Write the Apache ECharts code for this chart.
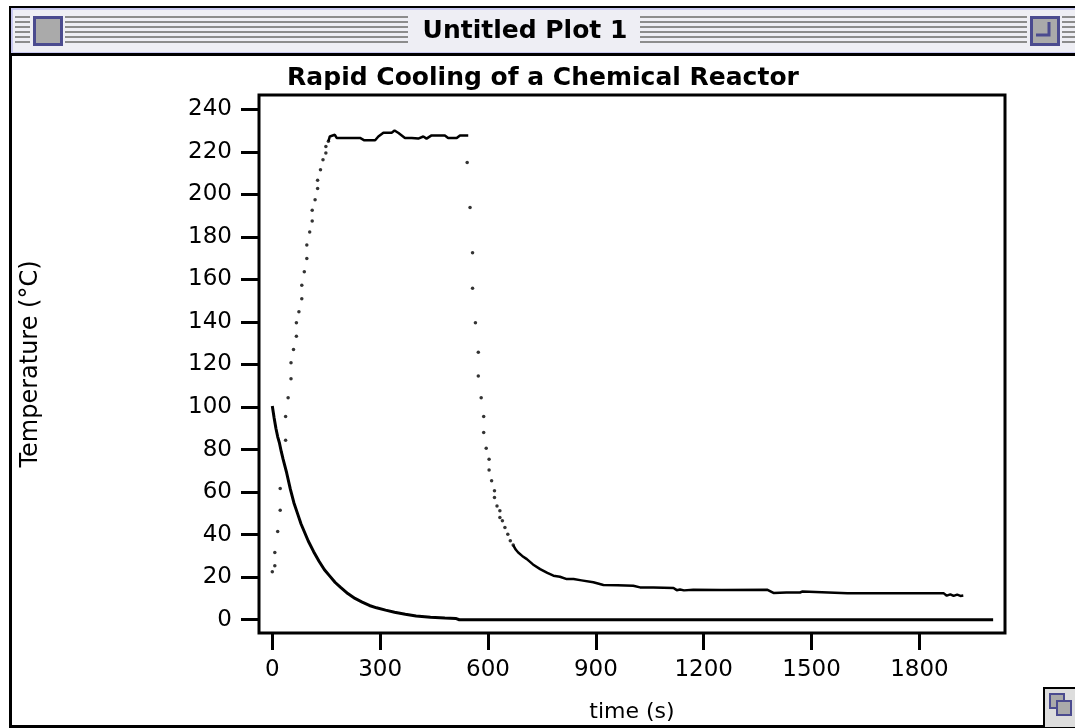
<!DOCTYPE html>
<html>
<head>
<meta charset="utf-8">
<title>Rapid Cooling of a Chemical Reactor</title>
<script src="https://cdn.jsdelivr.net/npm/echarts@6.0.0/dist/echarts.min.js"></script>
<style>
  html, body { margin: 0; padding: 0; background: #fff; }
  #main { width: 1075px; height: 728px; }
</style>
</head>
<body>
<div id="main"></div>
<script>
// tick positions
var xTicks = [0, 300, 600, 900, 1200, 1500, 1800];
var yTicks = [0, 20, 40, 60, 80, 100, 120, 140, 160, 180, 200, 220, 240];

// lower curve: [time s, temp C]
var coolCurve = [
  [0, 100.5], [5, 95], [10, 90], [15, 86], [20, 83], [25, 79], [30, 75.5], [40, 69],
  [50, 61.5], [60, 55], [70, 50], [80, 45], [90, 41], [100, 37], [115, 32], [130, 27.5],
  [145, 23.5], [160, 20.5], [175, 17.5], [190, 15.2], [210, 12.3], [230, 10], [250, 8.3],
  [270, 6.7], [290, 5.6], [315, 4.5], [340, 3.5], [370, 2.6], [400, 1.8], [440, 1.2],
  [480, 0.8], [510, 0.6], [520, 0], [2005, 0]
];

// reactor readings while heating (separate dots)
var heatDots = [
  [0, 22.5], [7, 25.4], [7, 31.6], [15, 41.5], [22, 51.5], [22, 61.7], [37, 84.4],
  [37, 95.5], [44, 104.4], [52, 113.3], [52, 120.8], [59, 127], [67, 133.3], [67, 139.6],
  [74, 144.8], [82, 150.9], [82, 157.3], [89, 163.6], [96, 169.8], [96, 176.2], [104, 182.3],
  [111, 187.5], [111, 192.5], [119, 197.5], [126, 202.7], [126, 206.6], [134, 211.5],
  [141, 216.3], [149, 219.4], [149, 222.5], [156, 224.9]
];

// plateau readings (dense, looks like a line)
var plateau = [
  [156, 224.9], [160, 227.2], [174, 228], [179, 226.5], [244, 226.5], [248, 227.2],
  [256, 225.4], [286, 225.4], [295, 227.2], [309, 229], [332, 229], [340, 230],
  [351, 228.8], [369, 226.5], [388, 226.5], [406, 226.2], [420, 227.2], [429, 226.2],
  [443, 227.7], [480, 227.7], [489, 226.5], [513, 226.5], [522, 227.7], [545, 227.7]
];

// readings during quench (separate dots)
var quenchDots = [
  [542, 215], [550, 193.8], [557, 172.5], [557, 155.9], [565, 139.6], [573, 125.8],
  [573, 114.6], [581, 104.4], [588, 95.5], [588, 88], [595, 80.6], [603, 75.4],
  [603, 70.4], [610, 65.3], [618, 60.6], [618, 57.5], [625, 53.5], [633, 51.2],
  [633, 48.1], [640, 46.5], [647, 43.4], [655, 40.2], [662, 37.1], [670, 35.1]
];

// slow tail after quench
var tail = [
  [670, 35.1], [677, 33], [684, 31.6], [695, 30], [708, 28.5], [725, 26], [745, 23.8],
  [765, 22], [782, 20.7], [800, 20.2], [819, 19.1], [838, 19.1], [860, 18.5], [893, 17.6],
  [921, 16.3], [960, 16.2], [1004, 16], [1023, 15.2], [1060, 15.1], [1116, 14.9],
  [1125, 13.9], [1134, 14.2], [1145, 13.8], [1171, 14.1], [1250, 14], [1376, 14.1],
  [1394, 12.6], [1430, 12.8], [1468, 12.8], [1475, 13.3], [1480, 12.6], [1600, 12.5],
  [1700, 12.5], [1867, 12.5], [1876, 11.3], [1886, 11.9], [1895, 11.2], [1905, 11.8],
  [1914, 11.2], [1922, 11.4]
];

var FONT = '"DejaVu Sans", Verdana, sans-serif';
var FRAME = '#4b4b8f';

// title bar stripes of the mac window
function stripes() {
  var segs = [[15, 30], [65, 408], [640, 1027], [1062, 1075]];
  var out = [];
  for (var s = 0; s < segs.length; s++) {
    for (var i = 0; i < 6; i++) {
      out.push({
        type: 'rect', silent: true,
        shape: { x: segs[s][0], y: 16 + i * 5, width: segs[s][1] - segs[s][0], height: 2 },
        style: { fill: '#8c8c8c' }
      });
    }
  }
  return out;
}

var chart = echarts.init(document.getElementById('main'), null, { renderer: 'canvas' });

var option = {
  backgroundColor: '#fff',
  animation: false,
  title: {
    text: 'Rapid Cooling of a Chemical Reactor',
    left: 538,
    textAlign: 'center',
    top: 61,
    textStyle: { fontFamily: FONT, fontSize: 25, fontWeight: 'bold', color: '#000' }
  },
  grid: {
    left: 259, top: 95, right: 70, bottom: 94,
    show: true,
    borderColor: '#000',
    borderWidth: 3,
    backgroundColor: 'transparent'
  },
  xAxis: {
    type: 'value',
    min: -37,
    max: 2038,
    axisLine: { show: false, onZero: false },
    splitLine: { show: false },
    axisTick: {
      show: true, length: 17, customValues: xTicks,
      lineStyle: { color: '#000', width: 3 }
    },
    axisLabel: {
      customValues: xTicks, margin: 26,
      color: '#000', fontFamily: FONT, fontSize: 23,
      formatter: function (v) { return String(v); }
    },
    name: 'time (s)',
    nameLocation: 'middle',
    nameGap: 68,
    nameTextStyle: { color: '#000', fontFamily: FONT, fontSize: 22 }
  },
  yAxis: {
    type: 'value',
    min: -6.24,
    max: 246.7,
    axisLine: { show: false, onZero: false },
    splitLine: { show: false },
    axisTick: {
      show: true, length: 18, customValues: yTicks,
      lineStyle: { color: '#000', width: 3 }
    },
    axisLabel: {
      customValues: yTicks, margin: 27,
      color: '#000', fontFamily: FONT, fontSize: 23
    },
    name: 'Temperature (°C)',
    nameLocation: 'middle',
    nameRotate: 90,
    nameGap: 216,
    nameTextStyle: { color: '#000', fontFamily: FONT, fontSize: 24 }
  },
  series: [
    {
      name: 'cooling curve', type: 'line', data: coolCurve,
      showSymbol: false, smooth: false,
      lineStyle: { color: '#000', width: 3 }
    },
    {
      name: 'heating', type: 'scatter', data: heatDots,
      symbol: 'circle', symbolSize: 3.5, itemStyle: { color: '#000' }
    },
    {
      name: 'plateau', type: 'line', data: plateau,
      showSymbol: false, lineStyle: { color: '#000', width: 2.5 }
    },
    {
      name: 'quench', type: 'scatter', data: quenchDots,
      symbol: 'circle', symbolSize: 3.5, itemStyle: { color: '#000' }
    },
    {
      name: 'tail', type: 'line', data: tail,
      showSymbol: false, lineStyle: { color: '#000', width: 2.5 }
    }
  ],
  graphic: [
    // window frame
    { type: 'rect', silent: true, shape: { x: 10.5, y: 7.5, width: 1100, height: 719 },
      style: { fill: 'none', stroke: '#000', lineWidth: 3 } },
    // title bar
    { type: 'rect', silent: true, shape: { x: 12, y: 9, width: 1070, height: 44 },
      style: { fill: '#eeeef4', stroke: '#c8c8f0', lineWidth: 2 } },
    { type: 'line', silent: true, shape: { x1: 10, y1: 54.5, x2: 1075, y2: 54.5 },
      style: { stroke: '#000', lineWidth: 3 } }
  ].concat(stripes()).concat([
    // close box
    { type: 'rect', silent: true, shape: { x: 34.5, y: 17.5, width: 27, height: 27 },
      style: { fill: '#aaaaaa', stroke: FRAME, lineWidth: 3 } },
    // zoom box
    { type: 'rect', silent: true, shape: { x: 1031.5, y: 17.5, width: 27, height: 27 },
      style: { fill: '#aaaaaa', stroke: FRAME, lineWidth: 3 } },
    { type: 'polyline', silent: true, shape: { points: [[1036, 35], [1049, 35], [1049, 22]] },
      style: { fill: 'none', stroke: FRAME, lineWidth: 3 } },
    { type: 'text', silent: true, x: 525, y: 31,
      style: { text: 'Untitled Plot 1', fill: '#000', font: 'bold 25px ' + FONT,
               textAlign: 'center', textVerticalAlign: 'middle' } },
    // grow box, bottom right
    { type: 'rect', silent: true, shape: { x: 1044, y: 688, width: 40, height: 40 },
      style: { fill: '#dddddd', stroke: '#000', lineWidth: 2 } },
    { type: 'rect', silent: true, shape: { x: 1050, y: 694, width: 14, height: 14 },
      style: { fill: '#aaaaaa', stroke: FRAME, lineWidth: 2 } },
    { type: 'rect', silent: true, shape: { x: 1057, y: 701, width: 14, height: 14 },
      style: { fill: '#aaaaaa', stroke: FRAME, lineWidth: 2 } }
  ])
};

chart.setOption(option);
</script>
</body>
</html>
